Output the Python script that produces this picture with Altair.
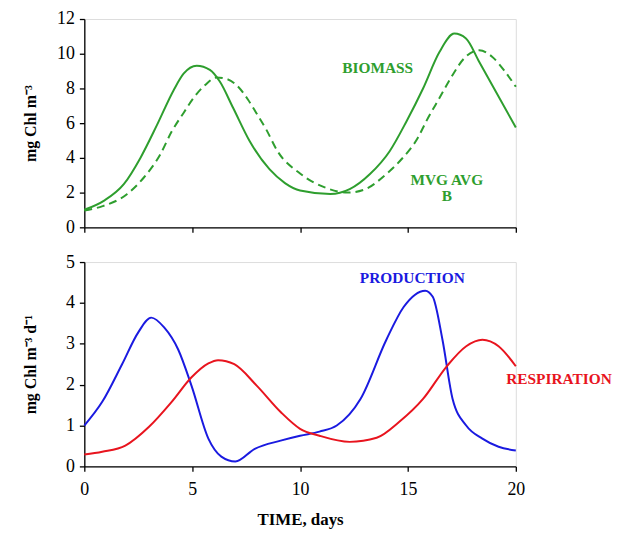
import altair as alt
import pandas as pd

# ---- data ----
bio_t = [0, 0.92, 1.84, 2.6, 3.37, 4.14, 4.6, 5.21, 5.82, 6.28, 6.9, 7.66, 8.58, 9.3, 10, 11.4, 12.3, 13.24, 14.16, 14.93, 15.7, 16.46, 17.15, 17.69, 18.3, 19.07, 20]
bio_v = [1.01, 1.54, 2.5, 4.0, 5.9, 7.9, 8.85, 9.31, 9.07, 8.4, 6.87, 4.97, 3.35, 2.55, 2.12, 1.92, 2.2, 3.07, 4.4, 6.1, 8.0, 10.1, 11.16, 10.88, 9.54, 7.83, 5.75]

mvg_t = [0, 0.85, 1.99, 2.76, 3.52, 4.06, 4.6, 5.06, 5.6, 6.13, 6.59, 7.05, 7.59, 7.97, 8.43, 8.95, 10, 11.25, 12.2, 12.93, 14.0, 14.7, 15.46, 15.85, 16.46, 17.07, 17.6, 18.3, 18.9, 19.5, 20]
mvg_v = [0.97, 1.22, 1.92, 2.87, 4.2, 5.54, 6.59, 7.45, 8.2, 8.63, 8.55, 8.2, 7.35, 6.59, 5.64, 4.4, 3.1, 2.25, 2.0, 2.15, 3.07, 3.92, 5.16, 6.11, 7.45, 8.78, 9.73, 10.2, 9.83, 8.97, 8.1]

prod_t = [0, 0.83, 1.75, 2.5, 3.1, 3.7, 4.35, 4.97, 5.75, 6.35, 7.0, 7.9, 9.1, 10, 10.9, 11.7, 12.8, 14, 14.8, 15.8, 16.15, 16.6, 17.07, 17.7, 18.45, 19.2, 20]
prod_v = [1.0, 1.58, 2.5, 3.28, 3.64, 3.4, 2.86, 1.97, 0.68, 0.24, 0.12, 0.43, 0.63, 0.75, 0.85, 1.0, 1.65, 3.1, 3.9, 4.3, 4.15, 3.1, 1.65, 1.0, 0.68, 0.48, 0.39]

resp_t = [0, 0.83, 1.9, 3.0, 4.05, 4.97, 5.75, 6.2, 6.95, 8.0, 9.1, 10, 10.9, 12.3, 13.55, 14.6, 15.7, 16.8, 17.7, 18.45, 19.2, 20]
resp_v = [0.29, 0.36, 0.51, 0.97, 1.58, 2.18, 2.52, 2.6, 2.5, 1.97, 1.33, 0.92, 0.75, 0.6, 0.7, 1.09, 1.65, 2.45, 2.94, 3.1, 2.94, 2.45]

x_ticks = [0, 5, 10, 15, 20]
top_ticks = [0, 2, 4, 6, 8, 10, 12]
bot_ticks = [0, 1, 2, 3, 4, 5]

top_labels = ["BIOMASS", "MVG AVG", "B"]
top_label_t = [13.6, 16.8, 16.8]
top_label_v = [9.15, 2.74, 1.83]

bot_labels = ["PRODUCTION", "RESPIRATION"]
bot_label_t = [15.2, 22.0]
bot_label_v = [4.6, 2.14]
bot_label_c = ["#1a1ae0", "#e8141e"]

GREEN = "#2e9e2e"
FONT = "Liberation Serif"

bio = pd.DataFrame({"t": bio_t, "v": bio_v})
mvg = pd.DataFrame({"t": mvg_t, "v": mvg_v})
prod = pd.DataFrame({"t": prod_t, "v": prod_v})
resp = pd.DataFrame({"t": resp_t, "v": resp_v})
tl = pd.DataFrame({"t": top_label_t, "v": top_label_v, "s": top_labels})
bl = pd.DataFrame({"t": bot_label_t, "v": bot_label_v, "s": bot_labels, "c": bot_label_c})

xscale = alt.Scale(domain=[0, 20], nice=False)

def xaxis(show_labels):
    kw = dict(values=x_ticks, tickSize=5, domainColor="black", tickColor="black",
              domainWidth=1.3, tickWidth=1.3, grid=False)
    if show_labels:
        return alt.Axis(labelFont=FONT, labelFontSize=18, labelColor="black", labelPadding=9,
                        labelFlush=False, labelOverlap=False,
                        title="TIME, days", titleFont=FONT, titleFontSize=17, titleFontWeight="bold",
                        titleColor="black", titlePadding=14, **kw)
    return alt.Axis(labels=False, title=None, **kw)

def yaxis(ticks, title, h):
    return alt.Axis(values=ticks, tickSize=5, domainColor="black", tickColor="black",
                    domainWidth=1.3, tickWidth=1.3, grid=False,
                    labelFont=FONT, labelFontSize=18, labelColor="black", labelPadding=5,
                    labelOverlap=False, labelFlush=False, labelBound=False,
                    title=title, titleFont=FONT, titleFontSize=16, titleFontWeight="bold",
                    titleColor="black", titleAngle=-90, titleX=-54, titleY=h / 2,
                    titleAlign="center", titleBaseline="middle")

W = 435
H1 = 210
H2 = 206

top_x = alt.X("t:Q", scale=xscale, axis=xaxis(False))
top_y = alt.Y("v:Q", scale=alt.Scale(domain=[0, 12], nice=False),
              axis=yaxis(top_ticks, "mg Chl m⁻³", H1))
bio_line = alt.Chart(bio).mark_line(color=GREEN, strokeWidth=2, interpolate="monotone").encode(
    x=top_x, y=top_y)
mvg_line = alt.Chart(mvg).mark_line(color=GREEN, strokeWidth=2, strokeDash=[8, 5],
                                    interpolate="monotone").encode(x=top_x, y=top_y)
top_text = alt.Chart(tl).mark_text(color=GREEN, font=FONT, fontSize=15.5, fontWeight="bold").encode(
    x=top_x, y=top_y, text="s:N")
top = alt.layer(bio_line, mvg_line, top_text).properties(width=W, height=H1)

bot_x = alt.X("t:Q", scale=xscale, axis=xaxis(True))
bot_y = alt.Y("v:Q", scale=alt.Scale(domain=[0, 5], nice=False),
              axis=yaxis(bot_ticks, "mg Chl m⁻³ d⁻¹", H2))
prod_line = alt.Chart(prod).mark_line(color="#1a1ae0", strokeWidth=2, interpolate="monotone").encode(
    x=bot_x, y=bot_y)
resp_line = alt.Chart(resp).mark_line(color="#e8141e", strokeWidth=2, interpolate="monotone").encode(
    x=bot_x, y=bot_y)
bot_text = alt.Chart(bl).mark_text(font=FONT, fontSize=15.5, fontWeight="bold").encode(
    x=bot_x, y=bot_y, text="s:N", color=alt.Color("c:N", scale=None))
bot = alt.layer(prod_line, resp_line, bot_text).properties(width=W, height=H2)

chart = alt.vconcat(top, bot, spacing=35, bounds="flush").properties(
    padding={"left": 22, "top": 7, "right": 5, "bottom": 5}
).configure_view(stroke=None).configure(background="white")

chart.save("out.html", embed_options={"renderer": "svg", "actions": False})
